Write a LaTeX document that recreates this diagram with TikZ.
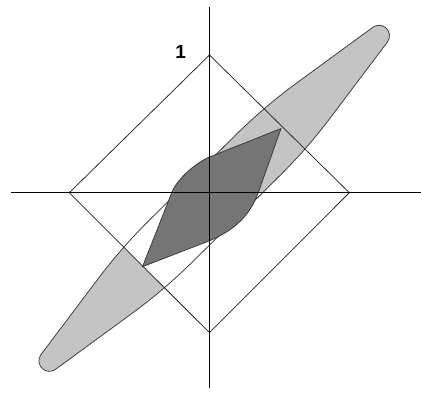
\documentclass[tikz,border=0pt]{standalone}
\usepackage{fontspec}
\setmainfont{Liberation Sans}
\begin{document}
\begin{tikzpicture}[x=1pt,y=-1pt]
\tikzset{
  axisline/.style={draw=black, line width=0.9pt},
  diamondline/.style={draw=black!85, line width=0.75pt},
  bandfill/.style={fill=black!23},
  outline/.style={draw=black!78, line width=0.75pt},
  lensfill/.style={fill=black!54},
  labelstyle/.style={font=\bfseries\fontsize{19}{19}\selectfont, inner sep=0pt},
}
\useasboundingbox (0,0) rectangle (421,392);
\fill[white] (0,0) rectangle (421,392);
% diamond vertices and axis ends
\coordinate (T) at (209.5,55);
\coordinate (R) at (349.3,192.7);
\coordinate (B) at (209.5,332.7);
\coordinate (L) at (69.3,192.7);
\coordinate (xl) at (11,192.7);
\coordinate (xr) at (421,192.7);
\coordinate (yt) at (209.5,7);
\coordinate (yb) at (209.5,388);
\def\bandshape{(-232.96,10.4) -- (-139.6,24.2) .. controls (-113.2,28.1) and (-86.7,30) .. (-60,30) -- (60,30) .. controls (86.7,30) and (113.2,28.1) .. (139.6,24.2) -- (232.96,10.4) arc[start angle=82, end angle=-82, radius=10.5] -- (139.6,-24.2) .. controls (113.2,-28.1) and (86.7,-30) .. (60,-30) -- (-60,-30) .. controls (-86.7,-30) and (-113.2,-28.1) .. (-139.6,-24.2) -- (-232.96,-10.4) arc[start angle=-98, end angle=-262, radius=10.5] -- cycle}
% band fill
\begin{scope}[shift={(214.2,198.3)}, rotate=44.6]
  \path[bandfill] \bandshape;
\end{scope}
% lower half of the diamond stays white
\fill[white] (L) -- (R) -- (B) -- cycle;
% band outline
\begin{scope}[shift={(214.2,198.3)}, rotate=44.6]
  \path[outline] \bandshape;
\end{scope}
% dark lens
\path[lensfill, outline] (142.5,266.7) -- (172,192) .. controls (177.1,179) and (196.5,162.2) .. (209.5,157) -- (281,128.5) -- (258.5,192) .. controls (249.1,218.4) and (231.1,232.4) .. (205,242.5) -- cycle;
% diamond
\draw[diamondline] (T) -- (R) -- (B) -- (L) -- cycle;
% axes
\draw[axisline] (xl) -- (xr);
\draw[axisline] (yt) -- (yb);
\node[labelstyle] (one) at (180.7,52.3) {1};
\end{tikzpicture}
\end{document}
